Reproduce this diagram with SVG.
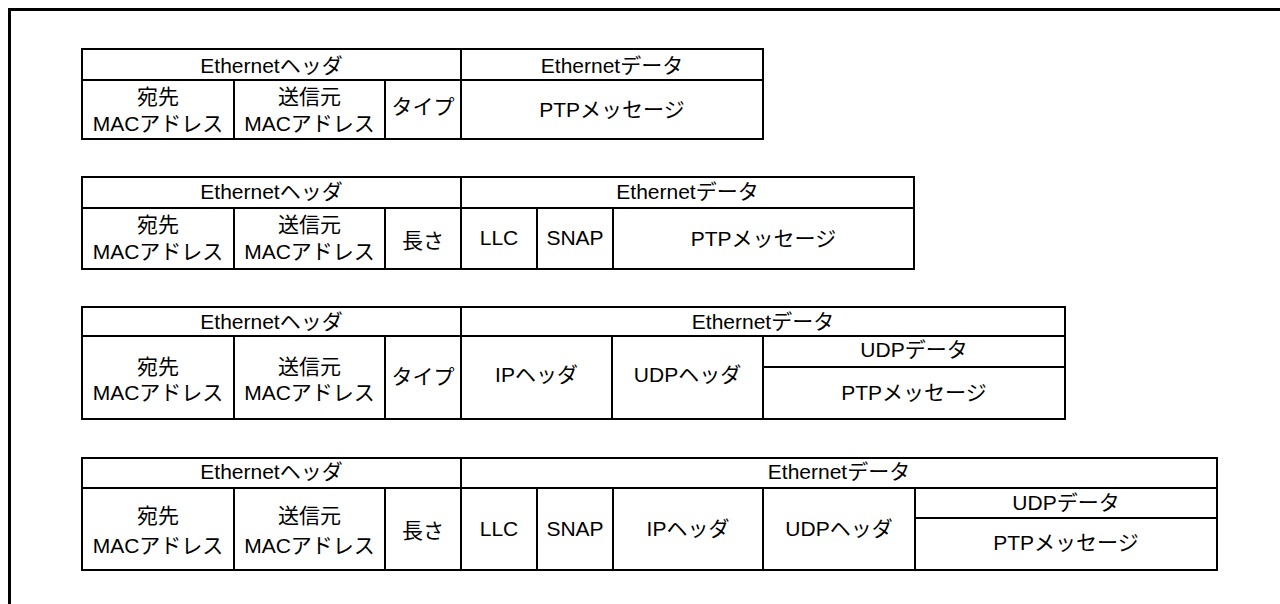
<svg xmlns="http://www.w3.org/2000/svg" width="1280" height="604" viewBox="0 0 1280 604">
<style>
.c{fill:#fff;stroke:#000;stroke-width:2}
text{font-family:"Liberation Sans","Noto Sans CJK JP",sans-serif;font-size:21px;fill:#000;text-anchor:middle}
</style>
<rect width="1280" height="604" fill="#fff"/>
<path d="M9.5,604 V9.5 H1280" fill="none" stroke="#000" stroke-width="3"/>
<g id="frame1">
<g id="t1-eh"><rect class="c" x="82" y="49" width="379" height="31"/><text x="271.5" y="73">Ethernetヘッダ</text></g>
<g id="t1-ed"><rect class="c" x="461" y="49" width="302" height="31"/><text x="612" y="73">Ethernetデータ</text></g>
<g id="t1-dst"><rect class="c" x="82" y="80" width="152" height="59"/><text x="158" y="104">宛先</text><text x="158" y="131">MACアドレス</text></g>
<g id="t1-src"><rect class="c" x="234" y="80" width="151" height="59"/><text x="309.5" y="104">送信元</text><text x="309.5" y="131">MACアドレス</text></g>
<g id="t1-type"><rect class="c" x="385" y="80" width="76" height="59"/><text x="423" y="114">タイプ</text></g>
<g id="t1-ptp"><rect class="c" x="461" y="80" width="302" height="59"/><text x="612" y="117">PTPメッセージ</text></g>
</g>
<g id="frame2">
<g id="t2-eh"><rect class="c" x="82" y="177" width="379" height="31"/><text x="271.5" y="199">Ethernetヘッダ</text></g>
<g id="t2-ed"><rect class="c" x="461" y="177" width="453" height="31"/><text x="687.5" y="199">Ethernetデータ</text></g>
<g id="t2-dst"><rect class="c" x="82" y="208" width="152" height="61"/><text x="158" y="232">宛先</text><text x="158" y="259">MACアドレス</text></g>
<g id="t2-src"><rect class="c" x="234" y="208" width="151" height="61"/><text x="309.5" y="232">送信元</text><text x="309.5" y="259">MACアドレス</text></g>
<g id="t2-len"><rect class="c" x="385" y="208" width="76" height="61"/><text x="423" y="248">長さ</text></g>
<g id="t2-llc"><rect class="c" x="461" y="208" width="76" height="61"/><text x="499" y="245">LLC</text></g>
<g id="t2-snap"><rect class="c" x="537" y="208" width="76" height="61"/><text x="575" y="245">SNAP</text></g>
<g id="t2-ptp"><rect class="c" x="613" y="208" width="301" height="61"/><text x="763.5" y="245.5">PTPメッセージ</text></g>
</g>
<g id="frame3">
<g id="t3-eh"><rect class="c" x="82" y="307" width="379" height="29"/><text x="271.5" y="328.5">Ethernetヘッダ</text></g>
<g id="t3-ed"><rect class="c" x="461" y="307" width="604" height="29"/><text x="763" y="328.5">Ethernetデータ</text></g>
<g id="t3-dst"><rect class="c" x="82" y="336" width="152" height="83"/><text x="158" y="373.5">宛先</text><text x="158" y="400">MACアドレス</text></g>
<g id="t3-src"><rect class="c" x="234" y="336" width="151" height="83"/><text x="309.5" y="373.5">送信元</text><text x="309.5" y="400">MACアドレス</text></g>
<g id="t3-type"><rect class="c" x="385" y="336" width="76" height="83"/><text x="423" y="383.5">タイプ</text></g>
<g id="t3-ip"><rect class="c" x="461" y="336" width="151" height="83"/><text x="536.5" y="382">IPヘッダ</text></g>
<g id="t3-udph"><rect class="c" x="612" y="336" width="151" height="83"/><text x="687.5" y="382">UDPヘッダ</text></g>
<g id="t3-udpd"><rect class="c" x="763" y="336" width="302" height="31"/><text x="914" y="357">UDPデータ</text></g>
<g id="t3-ptp"><rect class="c" x="763" y="367" width="302" height="52"/><text x="914" y="400">PTPメッセージ</text></g>
</g>
<g id="frame4">
<g id="t4-eh"><rect class="c" x="82" y="458" width="379" height="30"/><text x="271.5" y="479">Ethernetヘッダ</text></g>
<g id="t4-ed"><rect class="c" x="461" y="458" width="756" height="30"/><text x="839" y="479">Ethernetデータ</text></g>
<g id="t4-dst"><rect class="c" x="82" y="488" width="152" height="82"/><text x="158" y="523">宛先</text><text x="158" y="553">MACアドレス</text></g>
<g id="t4-src"><rect class="c" x="234" y="488" width="151" height="82"/><text x="309.5" y="523">送信元</text><text x="309.5" y="553">MACアドレス</text></g>
<g id="t4-len"><rect class="c" x="385" y="488" width="76" height="82"/><text x="423" y="538">長さ</text></g>
<g id="t4-llc"><rect class="c" x="461" y="488" width="76" height="82"/><text x="499" y="536">LLC</text></g>
<g id="t4-snap"><rect class="c" x="537" y="488" width="76" height="82"/><text x="575" y="536">SNAP</text></g>
<g id="t4-ip"><rect class="c" x="613" y="488" width="150" height="82"/><text x="688" y="536">IPヘッダ</text></g>
<g id="t4-udph"><rect class="c" x="763" y="488" width="152" height="82"/><text x="839" y="536">UDPヘッダ</text></g>
<g id="t4-udpd"><rect class="c" x="915" y="488" width="302" height="30"/><text x="1066" y="510">UDPデータ</text></g>
<g id="t4-ptp"><rect class="c" x="915" y="518" width="302" height="52"/><text x="1066" y="550">PTPメッセージ</text></g>
</g>
<g id="connectors"/>
</svg>
